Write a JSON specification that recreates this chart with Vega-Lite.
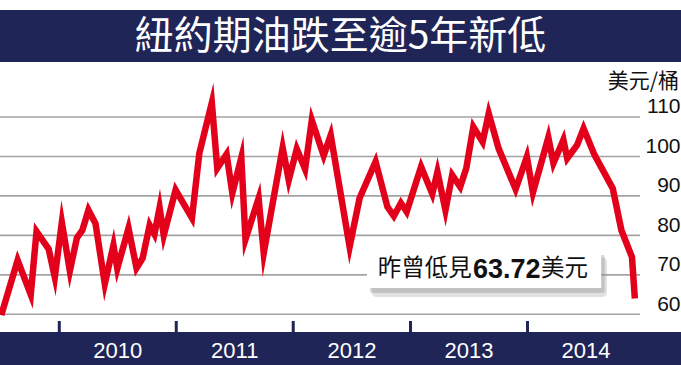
{
  "$schema": "https://vega.github.io/schema/vega-lite/v6.json",
  "width": 681,
  "height": 365,
  "autosize": "none",
  "padding": 0,
  "background": "white",
  "config": {"view": {"stroke": null}},
  "layer": [
    {
      "data": {"values": [{"v": 60}, {"v": 70}, {"v": 80}, {"v": 90}, {"v": 100}, {"v": 110}]},
      "mark": {"type": "rule", "color": "#a3a3a3", "strokeWidth": 1.6},
      "encoding": {
        "y": {"field": "v", "type": "quantitative"},
        "x": {"datum": {"year": 2009, "month": 6, "date": 1, "utc": true}, "type": "temporal"},
        "x2": {"datum": {"year": 2014, "month": 12, "date": 18, "utc": true}}
      }
    },
    {
      "data": {"values": [{"band": "x"}]},
      "mark": {"type": "rect", "color": "#1f2556"},
      "encoding": {
        "x": {"datum": {"year": 2009, "month": 1, "date": 1, "utc": true}, "type": "temporal"},
        "x2": {"datum": {"year": 2015, "month": 8, "date": 1, "utc": true}},
        "y": {"datum": 55.5, "type": "quantitative"},
        "y2": {"datum": 46.5}
      }
    },
    {
      "data": {"values": [{"d": "2010-01-01"}, {"d": "2011-01-01"}, {"d": "2012-01-01"}, {"d": "2013-01-01"}, {"d": "2014-01-01"}]},
      "mark": {"type": "rule", "color": "#1f2556", "strokeWidth": 3},
      "encoding": {
        "x": {"field": "d", "type": "temporal"},
        "y": {"datum": 58.3, "type": "quantitative"},
        "y2": {"datum": 55.0}
      }
    },
    {
      "data": {"values": [{"band": "title"}]},
      "mark": {"type": "rect", "color": "#1f2556"},
      "encoding": {
        "x": {"datum": {"year": 2009, "month": 1, "date": 1, "utc": true}, "type": "temporal"},
        "x2": {"datum": {"year": 2015, "month": 8, "date": 1, "utc": true}},
        "y": {"datum": 137.12, "type": "quantitative"},
        "y2": {"datum": 123.94}
      }
    },
    {
      "data": {"values": [{"t": "紐約期油跌至逾5年新低"}]},
      "mark": {"type": "text", "color": "white", "font": "Noto Sans CJK TC", "fontSize": 39, "align": "center", "baseline": "middle"},
      "encoding": {
        "text": {"field": "t"},
        "y": {"datum": 130.4, "type": "quantitative"}
      }
    },
    {
      "data": {"values": [{"t": "美元/桶"}]},
      "mark": {"type": "text", "color": "#111111", "font": "Noto Sans CJK TC", "fontSize": 21, "align": "right", "baseline": "middle"},
      "encoding": {
        "text": {"field": "t"},
        "x": {"datum": {"year": 2015, "month": 4, "date": 19, "utc": true}, "type": "temporal"},
        "y": {"datum": 118.9, "type": "quantitative"}
      }
    },
    {
      "data": {"values": [
        {"date": "2009-07-04", "price": 59.8},
        {"date": "2009-08-24", "price": 73.7},
        {"date": "2009-10-04", "price": 65.0},
        {"date": "2009-10-22", "price": 81.0},
        {"date": "2009-11-29", "price": 76.5},
        {"date": "2009-12-18", "price": 69.4},
        {"date": "2010-01-09", "price": 83.3},
        {"date": "2010-02-03", "price": 71.0},
        {"date": "2010-02-25", "price": 79.4},
        {"date": "2010-03-14", "price": 81.3},
        {"date": "2010-04-02", "price": 86.4},
        {"date": "2010-04-24", "price": 83.0},
        {"date": "2010-05-23", "price": 67.7},
        {"date": "2010-06-19", "price": 77.5},
        {"date": "2010-07-01", "price": 71.6},
        {"date": "2010-08-05", "price": 81.8},
        {"date": "2010-08-30", "price": 71.7},
        {"date": "2010-09-18", "price": 74.2},
        {"date": "2010-10-10", "price": 82.6},
        {"date": "2010-10-25", "price": 80.3},
        {"date": "2010-11-10", "price": 87.0},
        {"date": "2010-11-23", "price": 80.0},
        {"date": "2010-12-30", "price": 91.5},
        {"date": "2011-02-19", "price": 84.4},
        {"date": "2011-03-14", "price": 100.8},
        {"date": "2011-04-22", "price": 113.6},
        {"date": "2011-05-09", "price": 97.0},
        {"date": "2011-06-07", "price": 100.6},
        {"date": "2011-06-25", "price": 90.7},
        {"date": "2011-07-23", "price": 99.7},
        {"date": "2011-08-05", "price": 79.0},
        {"date": "2011-09-15", "price": 89.4},
        {"date": "2011-10-01", "price": 75.5},
        {"date": "2011-11-29", "price": 102.2},
        {"date": "2011-12-18", "price": 94.0},
        {"date": "2012-01-12", "price": 101.9},
        {"date": "2012-02-07", "price": 96.8},
        {"date": "2012-02-28", "price": 109.2},
        {"date": "2012-04-05", "price": 100.2},
        {"date": "2012-04-27", "price": 105.4},
        {"date": "2012-06-25", "price": 77.1},
        {"date": "2012-07-26", "price": 89.4},
        {"date": "2012-09-14", "price": 98.7},
        {"date": "2012-10-21", "price": 87.2},
        {"date": "2012-11-10", "price": 84.9},
        {"date": "2012-12-02", "price": 88.2},
        {"date": "2012-12-20", "price": 86.0},
        {"date": "2013-02-03", "price": 97.4},
        {"date": "2013-03-10", "price": 90.5},
        {"date": "2013-03-26", "price": 96.1},
        {"date": "2013-04-20", "price": 86.4},
        {"date": "2013-05-11", "price": 95.3},
        {"date": "2013-06-05", "price": 92.3},
        {"date": "2013-06-24", "price": 97.0},
        {"date": "2013-07-16", "price": 107.5},
        {"date": "2013-08-14", "price": 103.7},
        {"date": "2013-09-02", "price": 110.9},
        {"date": "2013-10-03", "price": 102.0},
        {"date": "2013-11-25", "price": 91.7},
        {"date": "2013-12-30", "price": 99.9},
        {"date": "2014-01-18", "price": 90.9},
        {"date": "2014-03-07", "price": 104.8},
        {"date": "2014-03-23", "price": 98.3},
        {"date": "2014-04-23", "price": 104.2},
        {"date": "2014-05-05", "price": 99.5},
        {"date": "2014-06-05", "price": 102.9},
        {"date": "2014-06-25", "price": 107.1},
        {"date": "2014-07-29", "price": 100.4},
        {"date": "2014-09-24", "price": 91.9},
        {"date": "2014-10-21", "price": 81.3},
        {"date": "2014-11-23", "price": 74.5},
        {"date": "2014-12-02", "price": 64.0}
      ]},
      "mark": {"type": "line", "color": "#e2001a", "strokeWidth": 6.5, "strokeJoin": "miter", "strokeMiterLimit": 10},
      "encoding": {
        "x": {
          "field": "date", "type": "temporal",
          "scale": {"type": "utc", "domain": [{"year": 2009, "month": 6, "date": 30, "utc": true}, {"year": 2015, "month": 4, "date": 25, "utc": true}]},
          "axis": {
            "orient": "bottom", "title": null, "domain": false, "ticks": false, "grid": false,
            "values": [{"year": 2010, "month": 7, "date": 1, "utc": true}, {"year": 2011, "month": 7, "date": 1, "utc": true}, {"year": 2012, "month": 7, "date": 1, "utc": true}, {"year": 2013, "month": 7, "date": 1, "utc": true}, {"year": 2014, "month": 7, "date": 1, "utc": true}],
            "format": "%Y", "labelColor": "white", "labelFont": "Liberation Sans", "labelFontSize": 22,
            "labelPadding": -15, "labelBaseline": "middle", "labelAlign": "center", "labelFlush": false, "labelOverlap": false, "zindex": 2
          }
        },
        "y": {
          "field": "price", "type": "quantitative",
          "scale": {"domain": [47.15, 139.65], "nice": false, "zero": false},
          "axis": {
            "orient": "right", "title": null, "domain": false, "ticks": false, "grid": false,
            "values": [60, 70, 80, 90, 100, 110],
            "labelColor": "#111111", "labelFont": "Liberation Sans", "labelFontSize": 21,
            "labelAlign": "right", "labelPadding": -1, "labelBaseline": "alphabetic", "labelOffset": -4, "zindex": 2
          }
        }
      }
    },
    {
      "data": {"values": [{"box": "shadow"}]},
      "mark": {"type": "rect", "color": "#9a9a9a", "opacity": 0.3, "cornerRadius": 4},
      "encoding": {
        "x": {"datum": {"year": 2012, "month": 9, "date": 3, "utc": true}, "type": "temporal"},
        "x2": {"datum": {"year": 2014, "month": 9, "date": 6, "utc": true}},
        "y": {"datum": 74.3, "type": "quantitative"},
        "y2": {"datum": 64.4}
      }
    },
    {
      "data": {"values": [{"box": "shadow2"}]},
      "mark": {"type": "rect", "color": "#8a8a8a", "opacity": 0.35, "cornerRadius": 2},
      "encoding": {
        "x": {"datum": {"year": 2012, "month": 8, "date": 28, "utc": true}, "type": "temporal"},
        "x2": {"datum": {"year": 2014, "month": 8, "date": 30, "utc": true}},
        "y": {"datum": 75.0, "type": "quantitative"},
        "y2": {"datum": 65.4}
      }
    },
    {
      "data": {"values": [{"box": "white"}]},
      "mark": {"type": "rect", "color": "white"},
      "encoding": {
        "x": {"datum": {"year": 2012, "month": 8, "date": 18, "utc": true}, "type": "temporal"},
        "x2": {"datum": {"year": 2014, "month": 8, "date": 19, "utc": true}},
        "y": {"datum": 75.53, "type": "quantitative"},
        "y2": {"datum": 66.66}
      }
    },
    {
      "data": {"values": [{"t": "昨曾低見"}]},
      "mark": {"type": "text", "color": "#111111", "font": "Noto Sans CJK TC", "fontSize": 23.5, "align": "left", "baseline": "middle"},
      "encoding": {
        "text": {"field": "t"},
        "x": {"datum": {"year": 2012, "month": 9, "date": 21, "utc": true}, "type": "temporal"},
        "y": {"datum": 71.6, "type": "quantitative"}
      }
    },
    {
      "data": {"values": [{"t": "63.72"}]},
      "mark": {"type": "text", "color": "#111111", "font": "Liberation Sans", "fontWeight": "bold", "fontSize": 27, "align": "left", "baseline": "middle"},
      "encoding": {
        "text": {"field": "t"},
        "x": {"datum": {"year": 2013, "month": 7, "date": 15, "utc": true}, "type": "temporal"},
        "y": {"datum": 71.3, "type": "quantitative"}
      }
    },
    {
      "data": {"values": [{"t": "美元"}]},
      "mark": {"type": "text", "color": "#111111", "font": "Noto Sans CJK TC", "fontSize": 23.5, "align": "left", "baseline": "middle"},
      "encoding": {
        "text": {"field": "t"},
        "x": {"datum": {"year": 2014, "month": 2, "date": 12, "utc": true}, "type": "temporal"},
        "y": {"datum": 71.6, "type": "quantitative"}
      }
    }
  ]
}
